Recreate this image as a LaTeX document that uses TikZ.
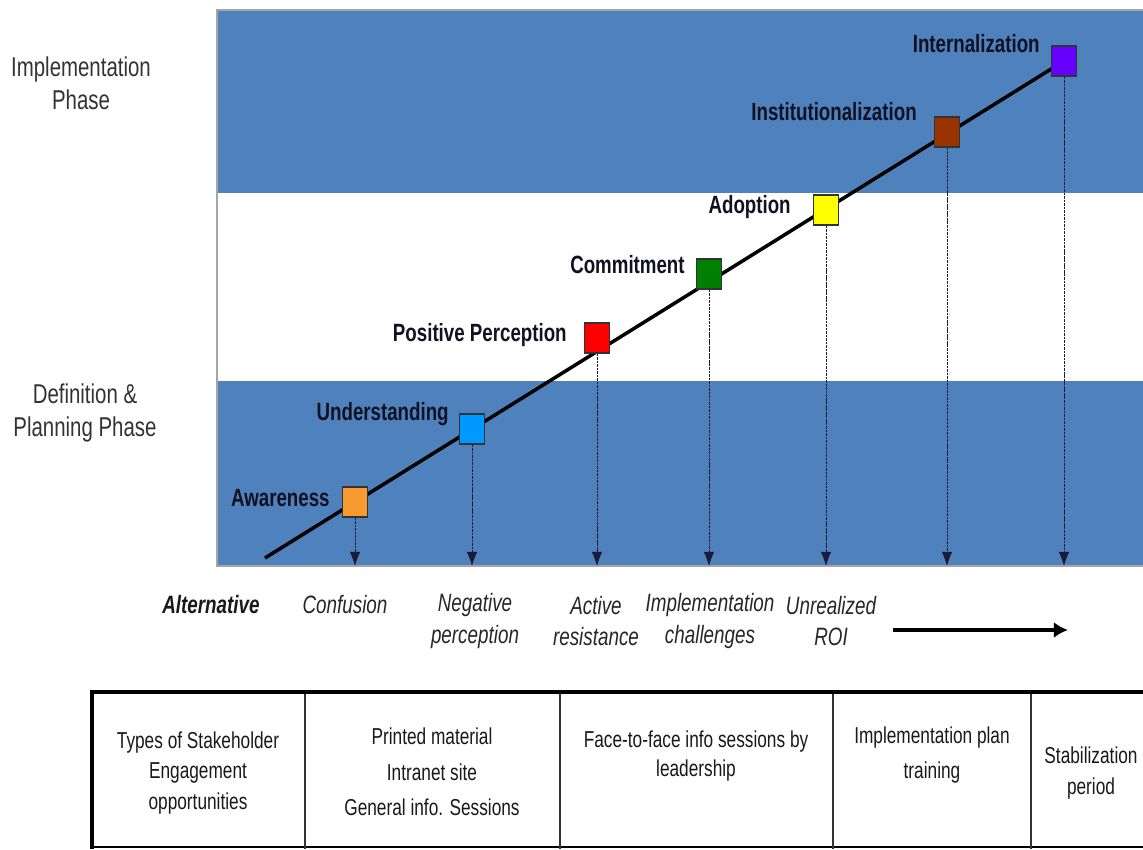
\documentclass[tikz,border=0pt]{standalone}
\usepackage{fontspec}
\setmainfont{Liberation Sans}[FakeStretch=0.75]
\usetikzlibrary{arrows.meta,backgrounds}
\definecolor{bandblue}{HTML}{4F81BD}
\definecolor{sqorange}{HTML}{F79A32}
\definecolor{sqblue}{HTML}{0099FF}
\definecolor{sqred}{HTML}{FF0000}
\definecolor{sqgreen}{HTML}{008000}
\definecolor{sqyellow}{HTML}{FFFF00}
\definecolor{sqbrown}{HTML}{993300}
\definecolor{sqpurple}{HTML}{6600FF}
\definecolor{labelink}{HTML}{111122}
\definecolor{arrink}{HTML}{1A1A3A}
\tikzset{
  sq/.style={draw=black!80, line width=0.8pt, minimum width=0.5cm, minimum height=0.6cm, inner sep=0pt},
  stage/.style={font=\fontsize{14.2}{17}\selectfont\bfseries, text=labelink, anchor=base east, inner sep=0pt},
  phase/.style={font=\fontsize{15.5}{18.8}\selectfont, text=black!80, align=center, inner sep=0pt},
  alt/.style={font=\fontsize{14.3}{18.2}\selectfont\itshape, text=black!85, align=center, inner sep=0pt},
  cell/.style={text=black!90, align=center, inner sep=0pt},
  drop/.style={arrink, line width=0.55pt, dash pattern=on 1.5pt off 0.5pt, -{Latex[length=8pt,width=6pt]}},
}
\begin{document}
\begin{tikzpicture}[x=0.02cm, y=-0.02cm]
\useasboundingbox (0,0) rectangle (1143,849);
% squares
\node[sq, fill=sqorange] (s1) at (355,502) {};
\node[sq, fill=sqblue]   (s2) at (472,429) {};
\node[sq, fill=sqred]    (s3) at (597,338) {};
\node[sq, fill=sqgreen]  (s4) at (709,274) {};
\node[sq, fill=sqyellow] (s5) at (826,210) {};
\node[sq, fill=sqbrown]  (s6) at (947,132) {};
\node[sq, fill=sqpurple] (s7) at (1064,61) {};
\coordinate (start) at (265,558);
\coordinate (base) at (0,566);
\begin{pgfonlayer}{background}
  \fill[bandblue] (217,10) rectangle (1143,566);
  \fill[white] (217,193) rectangle (1143,381);
  \draw[black!35, line width=0.6pt] (1143,10) -- (217,10) -- (217,566) -- (1143,566);
  \draw[black, line width=2pt] (start) -- (s7.center);
\end{pgfonlayer}
% drop arrows
\foreach \s in {s1,s2,s3,s4,s5,s6,s7}{
  \draw[drop] (\s.south) -- (\s.south |- base);
}
% stage labels
\node[stage] (l1) at (330,506) {Awareness};
\node[stage] (l2) at (449,420) {Understanding};
\node[stage] (l3) at (567,341) {Positive Perception};
\node[stage] (l4) at (685,273) {Commitment};
\node[stage] (l5) at (791,213) {Adoption};
\node[stage] (l6) at (917,120) {Institutionalization};
\node[stage] (l7) at (1040,52) {Internalization};
% phase labels
\node[phase] (ph1) at (81,83) {Implementation\\Phase};
\node[phase] (ph2) at (85,413) {Definition \&\\Planning Phase};
% alternative row
\node[alt, font=\fontsize{14.3}{18.2}\selectfont\bfseries\itshape, text=black!90] (alt) at (211,605) {Alternative};
\node[alt] (a1) at (345,605) {Confusion};
\node[alt] (a2) at (475,621) {Negative\\perception};
\node[alt] (a3) at (596,621) {Active\\resistance};
\node[alt] (a4) at (710,621) {Implementation\\challenges};
\node[alt] (a5) at (831,621) {Unrealized\\ROI};
\coordinate (ar1) at (893,630);
\coordinate (ar2) at (1068,630);
\draw[black, line width=2.3pt, -{Latex[length=8pt,width=9pt]}] (ar1) -- (ar2);
% table
\draw[black, line width=1.2pt] (92,847) -- (1143,847);
\draw[black!80, line width=1.1pt] (305,692) -- (305,849);
\draw[black!80, line width=1.1pt] (560,692) -- (560,849);
\draw[black!80, line width=1.1pt] (833,692) -- (833,849);
\draw[black!80, line width=1.1pt] (1031,692) -- (1031,849);
\draw[black, line width=2.6pt] (92,849) -- (92,692) -- (1143,692);
\node[cell, font=\fontsize{13.1}{17.1}\selectfont] (c1) at (198,773) {Types of Stakeholder\\Engagement\\opportunities};
\node[cell, font=\fontsize{13.1}{20.2}\selectfont] (c2) at (432,772) {Printed material\\Intranet site\\General info. Sessions};
\node[cell, font=\fontsize{13.1}{16}\selectfont] (c3) at (696,756) {Face-to-face info sessions by\\leadership};
\node[cell, font=\fontsize{13.1}{19.9}\selectfont] (c4) at (932,755) {Implementation plan\\training};
\node[cell, font=\fontsize{13.1}{17.6}\selectfont] (c5) at (1091,773) {Stabilization\\period};
\end{tikzpicture}
\end{document}
